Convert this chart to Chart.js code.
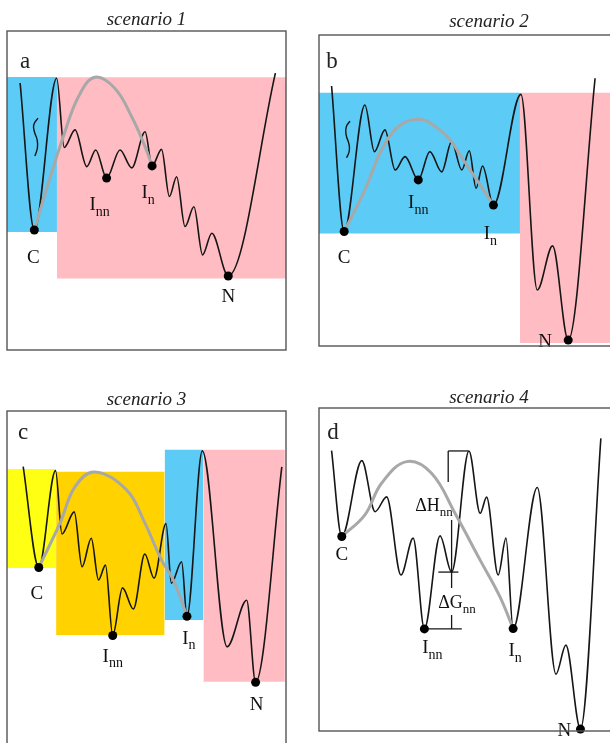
<!DOCTYPE html>
<html>
<head>
<meta charset="utf-8">
<script src="https://cdn.jsdelivr.net/npm/chart.js@4.4.1/dist/chart.umd.min.js"></script>
<style>
html, body { margin: 0; padding: 0; background: #fff; overflow: hidden; width: 610px; height: 743px; }
canvas { position: absolute; }
</style>
</head>
<body>
<canvas id="pa" width="293" height="360" style="left:0;top:0"></canvas>
<canvas id="pb" width="354" height="360" style="left:312px;top:0"></canvas>
<canvas id="pc" width="293" height="380" style="left:0;top:380px"></canvas>
<canvas id="pd" width="354" height="363" style="left:312px;top:380px"></canvas>
<script>
// reaction coordinate (0-100) and free energy (0-100)

// scenario 1
const aLandX = [4.7, 9.8, 17.8, 20.5, 24.4, 28.6, 31.8, 35.7, 40.5, 44.7, 49.5, 52.0, 55.4, 58.2, 60.8, 63.8, 67.0, 70.1, 73.4, 79.3, 96.2];
const aLandE = [83.7, 37.6, 85.2, 63.5, 69.0, 57.5, 62.7, 53.9, 62.7, 57.1, 68.4, 57.7, 62.9, 48.1, 54.3, 38.7, 44.9, 29.8, 36.6, 23.2, 86.8];
const aArcX = [9.8, 14.8, 20.2, 25.6, 31.5, 38.7, 44.7, 49.5, 52.0];
const aArcE = [37.6, 52.3, 66.9, 79.4, 85.5, 82.0, 73.1, 63.7, 57.7];
const aStates = [1, 7, 11, 19]; // C, Inn, In, N
const aBoxX0 = [0, 17.9];
const aBoxX1 = [17.9, 100];
const aBoxTop = [85.6, 85.5];
const aBoxBottom = [37.0, 22.4];
const aBoxKind = ['blue', 'pink'];
const aSquigX = [11.1, 9.6, 9.8, 10.8, 10.9, 10.0];
const aSquigE = [72.7, 70.6, 68.5, 65.9, 63.4, 60.8];

// scenario 2
const bLandX = [3.7, 7.4, 13.5, 16.3, 19.4, 22.4, 25.3, 29.2, 32.6, 36.1, 39.0, 42.0, 44.2, 46.2, 48.1, 51.3, 59.4, 64.2, 68.7, 73.3, 81.2];
const bLandE = [83.6, 36.8, 77.5, 62.5, 69.5, 56.6, 60.9, 53.4, 62.5, 56.0, 65.7, 56.6, 62.8, 50.7, 57.9, 45.3, 80.9, 18.0, 32.2, 1.9, 86.1];
const bArcX = [7.4, 13.5, 18.4, 23.3, 29.2, 34.1, 39.0, 41.5, 46.4, 51.3];
const bArcE = [36.8, 50.2, 63.0, 70.5, 72.9, 70.7, 65.7, 61.4, 53.4, 45.3];
const bStates = [1, 7, 15, 19];
const bBoxX0 = [0, 59.1];
const bBoxX1 = [59.1, 100];
const bBoxTop = [81.4, 81.4];
const bBoxBottom = [36.2, 1.0];
const bBoxKind = ['blue', 'pink'];
const bSquigX = [9.1, 8.0, 8.0, 8.8, 8.9, 8.1];
const bSquigE = [72.3, 70.4, 67.8, 65.0, 62.7, 60.5];

// scenario 3
const cLandX = [5.8, 11.4, 17.4, 19.7, 24.1, 26.9, 30.2, 32.8, 35.3, 37.9, 41.4, 45.3, 49.4, 52.7, 57.0, 58.9, 62.6, 64.5, 70.0, 78.9, 85.9, 89.1, 98.5];
const cLandE = [83.4, 53.3, 82.2, 63.3, 69.9, 53.5, 62.0, 49.6, 54.0, 33.0, 47.2, 40.9, 57.3, 50.1, 66.4, 48.6, 55.0, 38.7, 88.1, 29.6, 43.5, 19.0, 83.3];
const cArcX = [11.4, 19.0, 24.4, 31.4, 42.9, 48.9, 55.4, 59.6, 64.5];
const cArcE = [53.3, 66.5, 77.4, 81.8, 76.4, 67.5, 55.5, 49.6, 38.7];
const cStates = [1, 9, 17, 21];
const cBoxX0 = [0, 17.6, 56.5, 70.4];
const cBoxX1 = [17.6, 56.5, 70.4, 99.6];
const cBoxTop = [82.7, 81.9, 88.4, 88.4];
const cBoxBottom = [53.1, 33.1, 37.6, 19.2];
const cBoxKind = ['yellow', 'orange', 'blue', 'pink'];

// scenario 4
const dLandX = [3.7, 6.7, 12.6, 16.5, 19.9, 24.1, 27.7, 31.0, 35.6, 39.0, 44.1, 47.4, 49.3, 52.7, 55.0, 57.1, 64.2, 69.7, 72.6, 76.9, 82.9];
const dLandE = [86.8, 60.2, 83.7, 67.9, 72.5, 48.3, 59.7, 31.6, 60.4, 49.2, 86.7, 67.4, 72.4, 48.3, 59.7, 31.7, 75.4, 17.6, 26.6, 0.6, 90.6];
const dArcX = [6.7, 13.5, 18.4, 25.8, 33.1, 40.0, 47.4, 53.2, 57.1];
const dArcE = [60.2, 66.9, 76.7, 83.4, 79.8, 67.4, 52.9, 41.6, 31.7];
const dStates = [1, 7, 15, 19];
// dH / dG measuring lines: [x0, e0, x1, e1]
const dBrackets = [
    [38.0, 86.7, 43.9, 86.7],
    [38.0, 86.7, 38.0, 77.1],
    [39.0, 65.3, 39.0, 49.2],
    [35.1, 49.2, 41.0, 49.2],
    [39.0, 49.2, 39.0, 44.3],
    [39.0, 35.9, 39.0, 31.6],
    [31.2, 31.6, 42.0, 31.6]
];
const dDeltaText = ['ΔH', 'ΔG'];
const dDeltaX = [33.8, 40.6];
const dDeltaE = [70.0, 39.9];

const stateNames = [['C', ''], ['I', 'nn'], ['I', 'n'], ['N', '']];

// colours
const boxColors = { blue: '#5ccbf5', pink: '#ffbcc3', yellow: '#ffff14', orange: '#ffd200' };
const FONT = '"Liberation Serif", "Times New Roman", serif';

function pts(xs, es) {
    return xs.map((x, i) => ({ x: x, y: es[i] }));
}

function drawLabel(ctx, main, sub, cx, cy, size) {
    const subSize = Math.round(size * 0.72);
    ctx.font = size + 'px ' + FONT;
    const w1 = ctx.measureText(main).width;
    ctx.font = subSize + 'px ' + FONT;
    const w2 = sub ? ctx.measureText(sub).width : 0;
    const x0 = cx - (w1 + w2) / 2;
    const base = cy + size * 0.33;
    ctx.textAlign = 'left';
    ctx.textBaseline = 'alphabetic';
    ctx.font = size + 'px ' + FONT;
    ctx.fillText(main, x0, base);
    if (sub) {
        ctx.font = subSize + 'px ' + FONT;
        ctx.fillText(sub, x0 + w1, base + size * 0.3);
    }
}

// titles, panel letter, frame and state labels
function panelPlugin(p) {
    return {
        id: 'panel',
        afterDraw(chart) {
            const ctx = chart.ctx;
            const a = chart.chartArea;
            const xs = chart.scales.x, ys = chart.scales.y;
            ctx.save();
            ctx.fillStyle = '#222';
            ctx.font = 'italic 19px ' + FONT;
            ctx.textAlign = 'center';
            ctx.textBaseline = 'alphabetic';
            ctx.fillText(p.title, (a.left + a.right) / 2, a.top + p.titleOff);

            ctx.font = '23px ' + FONT;
            ctx.textBaseline = 'middle';
            ctx.fillText(p.letter, a.left + p.letterPos[0], a.top + p.letterPos[1]);

            ctx.fillStyle = '#111';
            p.states.forEach((idx, k) => {
                const px = xs.getPixelForValue(p.landX[idx]);
                const py = ys.getPixelForValue(p.landE[idx]);
                drawLabel(ctx, stateNames[k][0], stateNames[k][1], px + p.labelOff[k][0], py + p.labelOff[k][1], 19);
            });
            if (p.deltas) {
                p.deltas.text.forEach((t, k) => {
                    drawLabel(ctx, t, 'nn', xs.getPixelForValue(p.deltas.x[k]), ys.getPixelForValue(p.deltas.e[k]), 18);
                });
            }

            ctx.strokeStyle = '#555';
            ctx.lineWidth = 1.4;
            ctx.strokeRect(a.left, a.top, a.right - a.left, a.bottom - a.top);
            ctx.restore();
        }
    };
}

function makePanel(p) {
    const datasets = [];
    p.boxX0.forEach((x0, i) => {
        datasets.push({
            data: [{ x: x0, y: p.boxTop[i] }, { x: p.boxX1[i], y: p.boxTop[i] }],
            fill: { value: p.boxBottom[i] },
            backgroundColor: boxColors[p.boxKind[i]],
            borderWidth: 0,
            pointRadius: 0,
            tension: 0,
            order: 10
        });
    });
    datasets.push({
        data: pts(p.landX, p.landE),
        borderColor: '#161616',
        borderWidth: 1.6,
        pointRadius: 0,
        fill: false,
        cubicInterpolationMode: 'monotone',
        order: 4
    });
    if (p.squigX) {
        datasets.push({
            data: pts(p.squigX, p.squigE),
            borderColor: '#161616',
            borderWidth: 1.4,
            pointRadius: 0,
            fill: false,
            tension: 0.5,
            order: 4
        });
    }
    datasets.push({
        data: pts(p.arcX, p.arcE),
        borderColor: '#a8a8a8',
        borderWidth: 3,
        pointRadius: 0,
        fill: false,
        tension: 0.4,
        order: 3
    });
    if (p.brackets) {
        p.brackets.forEach(s => {
            datasets.push({
                data: [{ x: s[0], y: s[1] }, { x: s[2], y: s[3] }],
                borderColor: '#161616',
                borderWidth: 1.3,
                pointRadius: 0,
                fill: false,
                tension: 0,
                order: 2
            });
        });
    }
    datasets.push({
        data: p.states.map(i => ({ x: p.landX[i], y: p.landE[i] })),
        showLine: false,
        pointRadius: 4.5,
        pointBackgroundColor: '#000',
        pointBorderColor: '#000',
        pointBorderWidth: 0,
        clip: false,
        order: 0
    });

    return new Chart(document.getElementById(p.canvas), {
        type: 'line',
        data: { datasets: datasets },
        options: {
            responsive: false,
            animation: false,
            devicePixelRatio: 1,
            events: [],
            layout: { padding: p.pad },
            plugins: { legend: { display: false }, tooltip: { enabled: false }, title: { display: false } },
            scales: {
                x: { type: 'linear', min: 0, max: 100, display: false },
                y: { type: 'linear', min: 0, max: 100, display: false }
            }
        },
        plugins: [panelPlugin(p)]
    });
}

makePanel({
    canvas: 'pa', title: 'scenario 1', titleOff: -6, letter: 'a', letterPos: [18, 31],
    pad: { left: 7, right: 7, top: 31, bottom: 10 },
    landX: aLandX, landE: aLandE, arcX: aArcX, arcE: aArcE, states: aStates,
    boxX0: aBoxX0, boxX1: aBoxX1, boxTop: aBoxTop, boxBottom: aBoxBottom, boxKind: aBoxKind,
    squigX: aSquigX, squigE: aSquigE,
    labelOff: [[-1, 27], [-7, 26], [-4, 26], [0, 20]]
});

makePanel({
    canvas: 'pb', title: 'scenario 2', titleOff: -8, letter: 'b', letterPos: [13, 27],
    pad: { left: 7, right: 7, top: 35, bottom: 14 },
    landX: bLandX, landE: bLandE, arcX: bArcX, arcE: bArcE, states: bStates,
    boxX0: bBoxX0, boxX1: bBoxX1, boxTop: bBoxTop, boxBottom: bBoxBottom, boxKind: bBoxKind,
    squigX: bSquigX, squigE: bSquigE,
    labelOff: [[0, 25], [0, 22], [-3, 28], [-23, 1]]
});

makePanel({
    canvas: 'pc', title: 'scenario 3', titleOff: -6, letter: 'c', letterPos: [16, 22],
    pad: { left: 7, right: 7, top: 31, bottom: 14 },
    landX: cLandX, landE: cLandE, arcX: cArcX, arcE: cArcE, states: cStates,
    boxX0: cBoxX0, boxX1: cBoxX1, boxTop: cBoxTop, boxBottom: cBoxBottom, boxKind: cBoxKind,
    labelOff: [[-2, 25], [0, 20], [2, 21], [1, 21]]
});

makePanel({
    canvas: 'pd', title: 'scenario 4', titleOff: -5, letter: 'd', letterPos: [14, 25],
    pad: { left: 7, right: 7, top: 28, bottom: 12 },
    landX: dLandX, landE: dLandE, arcX: dArcX, arcE: dArcE, states: dStates,
    boxX0: [], boxX1: [], boxTop: [], boxBottom: [], boxKind: [],
    brackets: dBrackets,
    deltas: { text: dDeltaText, x: dDeltaX, e: dDeltaE },
    labelOff: [[0, 17], [8, 18], [2, 21], [-16, 1]]
});
</script>
</body>
</html>
